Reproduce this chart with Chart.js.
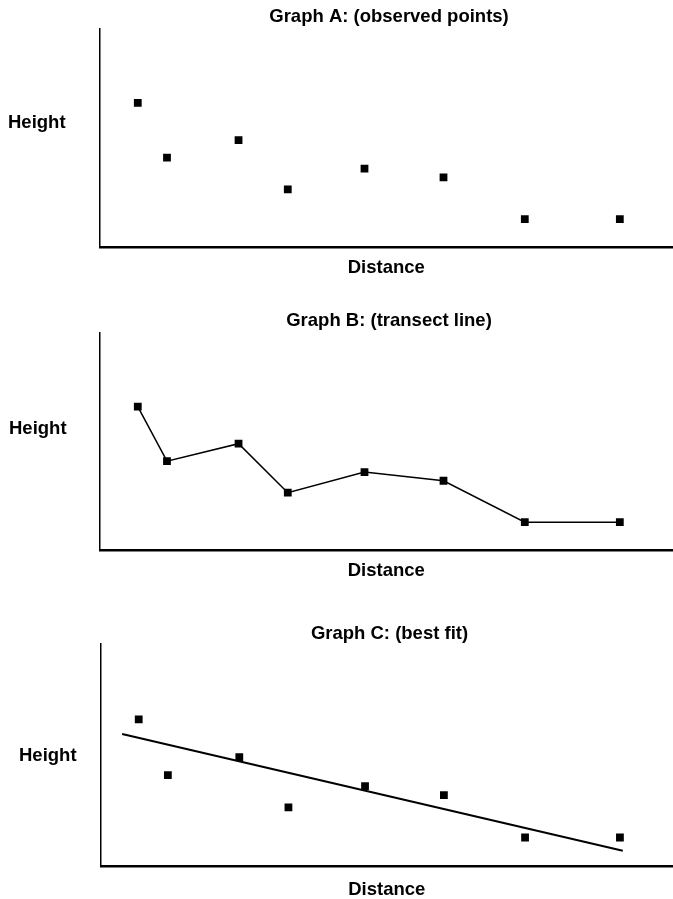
<!DOCTYPE html>
<html lang="en">
<head>
    <meta charset="UTF-8">
    <title>Graph A, B, C</title>
    <script src="https://cdn.jsdelivr.net/npm/chart.js"></script>
    <style>
        body {
            margin: 0;
            padding: 0;
            background: #ffffff;
            overflow: hidden;
        }
        .page {
            position: relative;
            width: 673px;
            height: 899px;
            overflow: hidden;
        }
        canvas {
            position: absolute;
            left: 0;
        }
    </style>
</head>
<body>
    <div class="page">
        <!-- a bit wider than the page so the x axis runs out to the right edge -->
        <canvas id="graphA" width="678" height="281" style="top:0px"></canvas>
        <canvas id="graphB" width="678" height="284" style="top:300px"></canvas>
        <canvas id="graphC" width="678" height="289" style="top:610px"></canvas>
    </div>

    <script>
        // same survey points in all three graphs
        const distances = [0.66, 1.17, 2.42, 3.28, 4.62, 6.0, 7.42, 9.08];
        const heights = [6.6, 4.1, 4.9, 2.65, 3.6, 3.2, 1.3, 1.3];

        const fitDistances = [0.37, 9.13];
        const fitHeights = [5.94, 0.71];

        const titles = ["Graph A: (observed points)", "Graph B: (transect line)", "Graph C: (best fit)"];
        const xLabel = "Distance";
        const yLabel = "Height";

        const FONT = "'Liberation Sans', Arial, Helvetica, sans-serif";

        const points = distances.map((d, i) => ({ x: d, y: heights[i] }));
        const fitLine = fitDistances.map((d, i) => ({ x: d, y: fitHeights[i] }));

        // "Height" sits level, left of the y axis, so draw it by hand
        const sideLabel = {
            id: "sideLabel",
            afterDraw(chart, args, opts) {
                const c = chart.ctx;
                c.save();
                c.font = "bold 18.5px " + FONT;
                c.fillStyle = "#000";
                c.textAlign = "left";
                c.textBaseline = "middle";
                c.fillText(opts.text, opts.x, opts.y);
                c.restore();
            }
        };

        function makeGraph(id, title, datasets, lay) {
            const ctx = document.getElementById(id).getContext("2d");
            return new Chart(ctx, {
                type: "scatter",
                data: { datasets: datasets },
                plugins: [sideLabel],
                options: {
                    responsive: false,
                    animation: false,
                    events: [],
                    layout: {
                        padding: { left: lay.left, right: 0, top: 0, bottom: lay.bottom }
                    },
                    plugins: {
                        legend: { display: false },
                        tooltip: { enabled: false },
                        title: {
                            display: true,
                            text: title,
                            color: "#000",
                            font: { family: FONT, size: 18.5, weight: "bold", lineHeight: 1 },
                            padding: { top: lay.titleTop, bottom: lay.titleBottom }
                        },
                        sideLabel: { text: yLabel, x: lay.hx, y: lay.hy }
                    },
                    scales: {
                        x: {
                            type: "linear",
                            min: 0,
                            max: 10,
                            grid: { display: false, drawTicks: false },
                            ticks: { display: false },
                            border: { display: true, color: "#000", width: 2.5 },
                            title: {
                                display: true,
                                text: xLabel,
                                color: "#000",
                                font: { family: FONT, size: 18.5, weight: "bold", lineHeight: 1 },
                                padding: { top: lay.xTitleTop, bottom: 0 }
                            }
                        },
                        y: {
                            type: "linear",
                            min: 0,
                            max: 10,
                            grid: { display: false, drawTicks: false },
                            ticks: { display: false },
                            border: { display: true, color: "#000", width: 1.5 }
                        }
                    }
                }
            });
        }

        function dots(withLine) {
            return {
                data: points,
                showLine: withLine,
                borderColor: "#000",
                borderWidth: 1.5,
                backgroundColor: "#000",
                pointStyle: "rect",
                pointRadius: 5.5,
                pointBorderWidth: 0
            };
        }

        makeGraph("graphA", titles[0], [dots(false)],
            { left: 100, bottom: 4, titleTop: 8, titleBottom: 2, xTitleTop: 11, hx: 8, hy: 123 });

        makeGraph("graphB", titles[1], [dots(true)],
            { left: 100, bottom: 4, titleTop: 12, titleBottom: 2, xTitleTop: 11, hx: 9, hy: 129 });

        makeGraph("graphC", titles[2], [
            dots(false),
            {
                data: fitLine,
                showLine: true,
                borderColor: "#000",
                borderWidth: 2,
                pointRadius: 0
            }
        ], { left: 101, bottom: 0, titleTop: 15, titleBottom: 0, xTitleTop: 14, hx: 19, hy: 146 });
    </script>
</body>
</html>
